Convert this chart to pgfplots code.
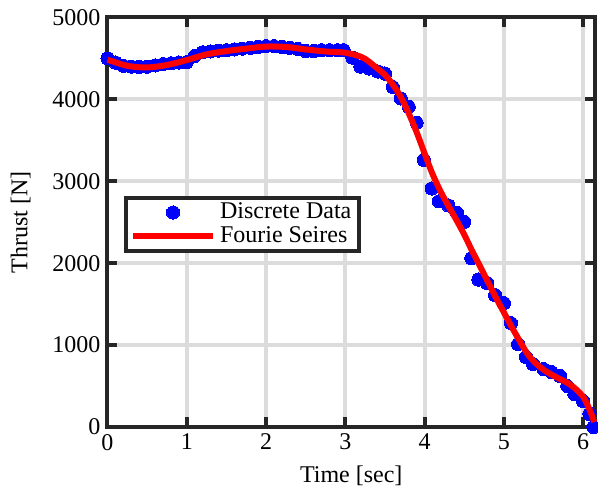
\documentclass[border=0pt]{standalone}
\usepackage{pgfplots}
\pgfplotsset{compat=1.18}
\usepackage{fontspec}
\setmainfont{Liberation Serif}

\definecolor{gridgray}{RGB}{220,220,220}

\pgfplotsset{
    dotlegend/.style={legend image code/.code={\draw[mark repeat=2, mark phase=2, #1] plot coordinates {(0pt,0pt) (20pt,0pt) (40pt,0pt)};}},
    linelegend/.style={legend image code/.code={\draw[#1] (0pt,0pt) -- (40pt,0pt);}},
}

\begin{document}
\begin{tikzpicture}
\begin{axis}[
    set layers,
    width=243.75pt, height=204.75pt,
    scale only axis,
    xmin=0, xmax=6.15,
    ymin=0, ymax=5000,
    xtick={0,1,...,6},
    ytick={0,1000,...,5000},
    /pgf/number format/assume math mode=true,
    /pgf/number format/1000 sep={},
    scaled y ticks=false,
    tick label style={font=\fontsize{12}{14}\selectfont},
    label style={font=\fontsize{12}{14}\selectfont},
    xlabel={Time [sec]},
    ylabel={Thrust [N]},
    xlabel style={yshift=-1pt},
    ylabel style={yshift=4pt},
    axis line style={line width=2pt, black!85},
    tick style={line width=2pt, black!85},
    major tick length=5pt,
    tick align=inside,
    xtick pos=both, ytick pos=both,
    grid=major,
    major grid style={line width=2pt, gridgray},
    clip=false,
    legend cell align=left,
    legend style={at={(0.034,0.564)}, anchor=north west,
        draw=black!85, line width=2pt,
        font=\fontsize{12}{14}\selectfont,
        inner xsep=2pt, inner ysep=0.5pt, row sep=-1.5pt},
]
\addplot[only marks, mark=*, mark size=3.3pt, blue, mark options={fill=blue, draw=blue, line width=0pt}, dotlegend]
coordinates {
(0.00,4500) (0.10,4450) (0.20,4410) (0.30,4400) (0.40,4395) (0.50,4400)
(0.60,4415) (0.70,4430) (0.80,4440) (0.90,4450) (1.00,4455) (1.10,4530)
(1.20,4575) (1.30,4585) (1.40,4595) (1.50,4600) (1.60,4610) (1.70,4620)
(1.80,4630) (1.90,4640) (2.00,4650) (2.10,4650) (2.20,4640) (2.30,4630)
(2.40,4615) (2.50,4590) (2.60,4590) (2.70,4600) (2.80,4600) (2.90,4600)
(2.98,4600) (3.09,4510) (3.19,4400) (3.30,4378) (3.41,4340) (3.50,4315)
(3.60,4150) (3.70,4012) (3.80,3910) (3.90,3715) (3.99,3262) (4.09,2912)
(4.18,2756) (4.30,2705) (4.41,2615) (4.50,2505) (4.59,2060) (4.68,1800)
(4.79,1756) (4.89,1610) (5.00,1512) (5.09,1268) (5.18,1012) (5.28,854)
(5.37,768) (5.50,707) (5.60,671) (5.71,622) (5.80,500) (5.89,402)
(6.00,317) (6.08,159) (6.13,0)
};
\addlegendentry{Discrete Data}
\addplot[on layer=axis foreground, red, line width=3pt, smooth, linelegend]
coordinates {
(0.00,4485) (0.25,4410) (0.50,4390) (0.75,4420) (1.00,4480) (1.25,4550)
(1.50,4590) (1.75,4620) (2.00,4645) (2.25,4640) (2.50,4610) (2.75,4585)
(3.00,4570) (3.20,4520) (3.30,4460) (3.40,4380) (3.50,4300) (3.60,4180)
(3.70,4030) (3.80,3830) (3.90,3600) (4.00,3340) (4.10,3090) (4.20,2880)
(4.30,2700) (4.40,2530) (4.50,2350) (4.60,2150) (4.70,1963) (4.80,1770)
(4.90,1580) (5.00,1400) (5.10,1220) (5.20,1050) (5.30,890) (5.40,780)
(5.50,700) (5.60,640) (5.70,590) (5.80,540) (5.90,470) (6.00,370)
(6.05,280) (6.10,170) (6.14,60)
};
\addlegendentry{Fourie Seires}
\end{axis}
\pgfresetboundingbox
\useasboundingbox ([xshift=-53.75pt,yshift=-35pt]current axis.south west) rectangle ([xshift=1.5pt,yshift=8.75pt]current axis.north east);
\end{tikzpicture}
\end{document}
